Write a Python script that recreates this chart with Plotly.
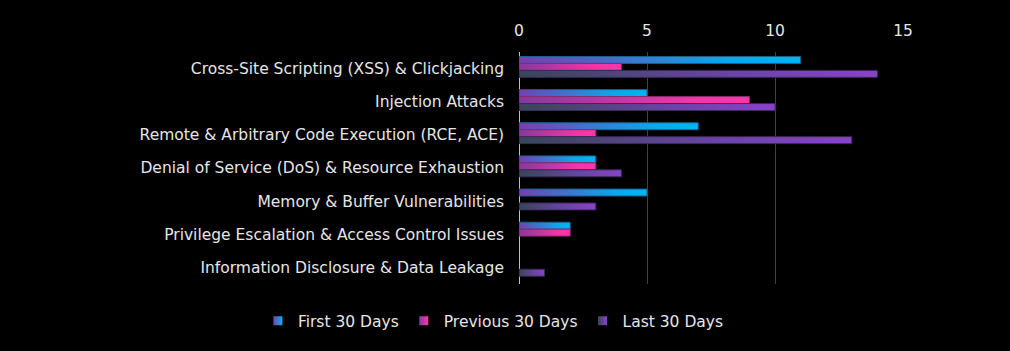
import plotly.graph_objects as go

categories = [
    "Cross-Site Scripting (XSS) & Clickjacking",
    "Injection Attacks",
    "Remote & Arbitrary Code Execution (RCE, ACE)",
    "Denial of Service (DoS) & Resource Exhaustion",
    "Memory & Buffer Vulnerabilities",
    "Privilege Escalation & Access Control Issues",
    "Information Disclosure & Data Leakage",
]
series_names = ["First 30 Days", "Previous 30 Days", "Last 30 Days"]
first_30 = [11, 5, 7, 3, 5, 2, 0]
previous_30 = [4, 9, 3, 3, 0, 2, 0]
last_30 = [14, 10, 13, 4, 3, 0, 1]
x_ticks = [0, 5, 10, 15]

series_values = [first_30, previous_30, last_30]
scales = [
    [[0, "#7440ae"], [0.75, "#0aa8ec"], [1, "#00b6f2"]],
    [[0, "#843a9e"], [0.75, "#f236a6"], [1, "#ff36a8"]],
    [[0, "#384656"], [0.6, "#6a44a6"], [1, "#8a42c8"]],
]
outlines = ["#1c5f8c", "#8a2a6e", "#3a2a5a"]

bar_h = 0.21
offsets = [-bar_h, 0.0, bar_h]

FONT = "'DejaVu Sans', sans-serif"
TXT = "#e6e6e6"
FS = 15.5

fig = go.Figure()
for s, (name, vals) in enumerate(zip(series_names, series_values)):
    for i, v in enumerate(vals):
        if v <= 0:
            continue
        c = i + offsets[s] - 0.05
        y0, y1 = c - bar_h / 2, c + bar_h / 2
        fig.add_trace(go.Scatter(
            x=[0, v, v, 0, 0],
            y=[y0, y0, y1, y1, y0],
            mode="lines",
            fill="toself",
            fillgradient=dict(type="horizontal", colorscale=scales[s]),
            line=dict(color=outlines[s], width=1),
            name=name,
            legendgroup=name,
            showlegend=False,
            hoveron="fills",
            hoverinfo="text",
            text=f"{name}: {categories[i]} = {v}",
        ))
    # legend entry
    fig.add_trace(go.Scatter(
        x=[None], y=[None],
        mode="markers",
        marker=dict(symbol="square", size=9,
                    color=scales[s][0][1],
                    gradient=dict(type="horizontal", color=scales[s][-1][1]),
                    line=dict(width=0)),
        name=name,
        legendgroup=name,
        showlegend=True,
    ))

fig.update_layout(
    width=1010,
    height=351,
    paper_bgcolor="#000000",
    plot_bgcolor="#000000",
    margin=dict(l=519, r=107, t=52, b=67, autoexpand=False),
    font=dict(family=FONT, size=FS, color=TXT),
    xaxis=dict(
        range=[0, 15],
        side="top",
        tickvals=x_ticks,
        ticktext=[str(t) for t in x_ticks],
        showgrid=True,
        gridcolor="#404040",
        gridwidth=1,
        zeroline=True,
        zerolinecolor="#bfbfbf",
        zerolinewidth=1,
        showline=False,
        ticks="",
        ticklabelstandoff=12,
        tickfont=dict(family=FONT, size=FS, color=TXT),
        fixedrange=True,
    ),
    yaxis=dict(
        range=[6.5, -0.5],
        tickvals=list(range(len(categories))),
        ticktext=categories,
        showgrid=False,
        zeroline=False,
        showline=False,
        ticks="",
        ticklabelstandoff=14,
        tickfont=dict(family=FONT, size=FS, color=TXT),
        fixedrange=True,
    ),
    legend=dict(
        orientation="h",
        x=-0.68,
        xanchor="left",
        y=-0.087,
        yanchor="top",
        font=dict(family=FONT, size=FS, color=TXT),
        bgcolor="rgba(0,0,0,0)",
        itemwidth=30,
        tracegroupgap=0,
    ),
    showlegend=True,
)

fig.write_html("out.html")
